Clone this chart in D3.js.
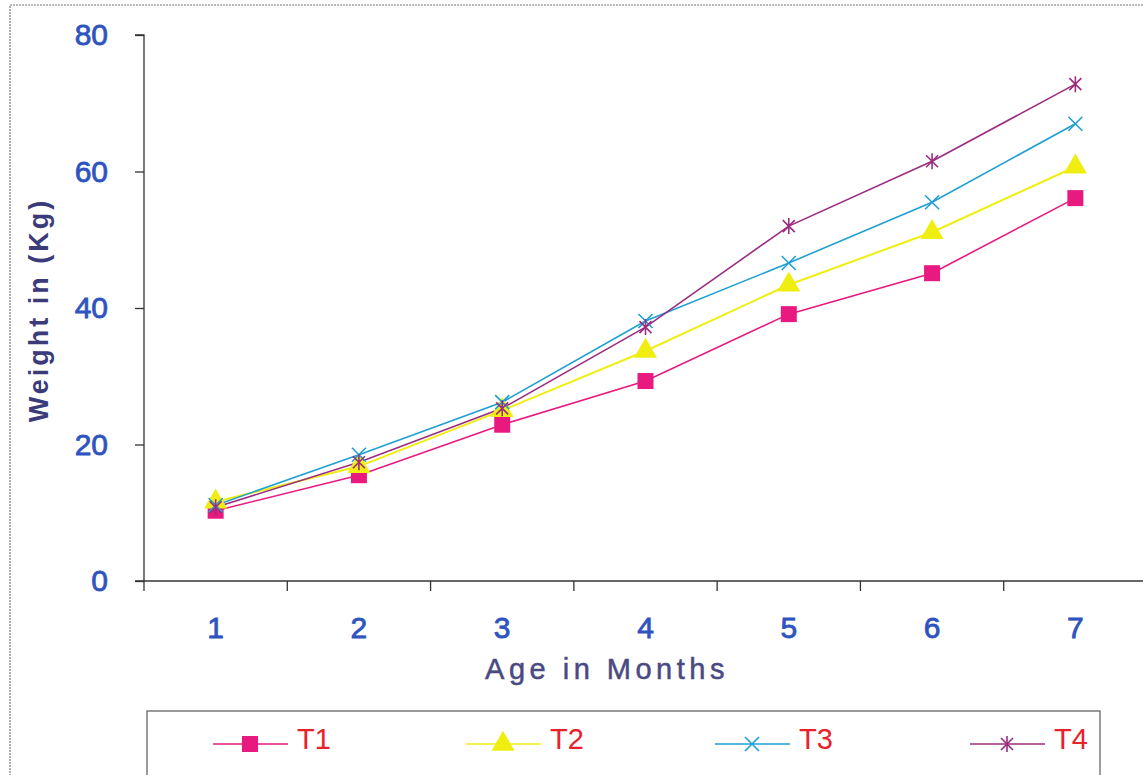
<!DOCTYPE html>
<html><head><meta charset="utf-8">
<script src="https://cdn.jsdelivr.net/npm/d3@7"></script>
<style>body{margin:0;background:#fff}svg{display:block}</style>
</head><body>
<svg id="c" width="1143" height="775"></svg>
<script>
const months = ["1","2","3","4","5","6","7"];
const yTicks = [0,20,40,60,80];
const seriesNames = ["T1","T2","T3","T4"];
const t1 = [10.3,15.5,22.9,29.3,39.1,45.1,56.1];
const t2 = [11.6,16.8,25.0,33.7,43.4,51.1,60.7];
const t3 = [11.1,18.5,26.2,38.1,46.6,55.5,67.0];
const t4 = [10.8,17.4,25.3,37.2,52.0,61.5,72.8];
const colors = ["#e8197f","#f0ee10","#1f9fd2","#9b2d80"];
const symbols = ["square","triangle","x","star"];
const seriesVals = [t1,t2,t3,t4];

const FONT = "Liberation Sans, Arial, sans-serif";
const svg = d3.select("#c");
const x = d3.scaleBand().domain(months).range([144,1147]);
const y = d3.scaleLinear().domain([0,80]).range([581,35]);

// outer border
svg.append("rect").attr("x",10).attr("y",5).attr("width",1140).attr("height",780)
  .attr("fill","none").attr("stroke","#777").attr("stroke-width",1.2).attr("stroke-dasharray","2,1");

// axes
const yAxis = d3.axisLeft(y).tickValues(yTicks).tickSize(9).tickPadding(27);
const gy = svg.append("g").attr("transform","translate(144,0)").call(yAxis);
gy.select(".domain").attr("stroke","#333").attr("stroke-width",1.3).attr("d","M-9,35H0V581H-9");
gy.selectAll(".tick line").attr("stroke","#333").attr("stroke-width",1.3);
gy.selectAll(".tick text").attr("fill","#2f54c0").attr("font-family",FONT)
  .attr("font-size",30).attr("stroke","#2f54c0").attr("stroke-width",0.8);

const xAxis = d3.axisBottom(x).tickSize(0).tickPadding(36);
const gx = svg.append("g").attr("transform","translate(0,581)").call(xAxis);
gx.select(".domain").attr("stroke","#333").attr("stroke-width",1.3).attr("d","M144,0H1147");
gx.selectAll(".tick text").attr("fill","#2f54c0").attr("font-family",FONT)
  .attr("font-size",30).attr("stroke","#2f54c0").attr("stroke-width",0.8);
// category boundary ticks
const bounds = months.map(m => x(m)).concat([x(months[months.length-1]) + x.bandwidth()]);
svg.append("g").selectAll("line").data(bounds).join("line")
  .attr("x1",d=>d).attr("x2",d=>d).attr("y1",581).attr("y2",591)
  .attr("stroke","#333").attr("stroke-width",1.3);

// axis titles
svg.append("text").attr("transform","translate(48,310) rotate(-90)").attr("text-anchor","middle")
  .attr("fill","#3b3b7a").attr("font-family",FONT)
  .attr("font-size",27).attr("font-weight","bold").attr("letter-spacing",3).text("Weight in (Kg)");
svg.append("text").attr("x",607).attr("y",679).attr("text-anchor","middle")
  .attr("fill","#4a4a82").attr("font-family",FONT)
  .attr("font-size",29).attr("letter-spacing",4.5).attr("stroke","#4a4a82").attr("stroke-width",0.5).text("Age in Months");

const cx = m => x(m) + x.bandwidth()/2;
const line = d3.line().x((d,i)=>cx(months[i])).y(d=>y(d));

function drawMarker(g, type, color, px, py){
  if(type==="square"){
    g.append("rect").attr("x",px-8).attr("y",py-8).attr("width",16).attr("height",16).attr("fill",color);
  } else if(type==="triangle"){
    g.append("path").attr("d",d3.symbol().type(d3.symbolTriangle).size(230)()).attr("transform",`translate(${px},${py})`).attr("fill",color);
  } else if(type==="x"){
    g.append("path").attr("d",`M${px-7},${py-7}L${px+7},${py+7}M${px-7},${py+7}L${px+7},${py-7}`).attr("stroke",color).attr("stroke-width",1.6).attr("fill","none");
  } else {
    g.append("path").attr("d",`M${px-6},${py-6}L${px+6},${py+6}M${px-6},${py+6}L${px+6},${py-6}M${px},${py-8}L${px},${py+8}`).attr("stroke",color).attr("stroke-width",1.6).attr("fill","none");
  }
}

seriesVals.forEach((vals,si)=>{
  svg.append("path").datum(vals).attr("d",line).attr("fill","none")
    .attr("stroke",colors[si]).attr("stroke-width",si===1?2:1.6);
});
seriesVals.forEach((vals,si)=>{
  const g = svg.append("g");
  vals.forEach((v,i)=>drawMarker(g,symbols[si],colors[si],cx(months[i]),y(v)));
});

// legend
svg.append("rect").attr("x",147).attr("y",711).attr("width",953).attr("height",80)
  .attr("fill","none").attr("stroke","#666").attr("stroke-width",1.3);
const legX = [213,466,715,970];
seriesNames.forEach((n,i)=>{
  const g = svg.append("g");
  g.append("line").attr("x1",legX[i]).attr("x2",legX[i]+75).attr("y1",744).attr("y2",744)
    .attr("stroke",colors[i]).attr("stroke-width",1.5);
  drawMarker(g,symbols[i],colors[i],legX[i]+37,744);
  g.append("text").attr("x",legX[i]+84).attr("y",749).attr("fill","#e8212a")
    .attr("font-family",FONT).attr("font-size",29).text(n);
});
</script>
</body></html>
